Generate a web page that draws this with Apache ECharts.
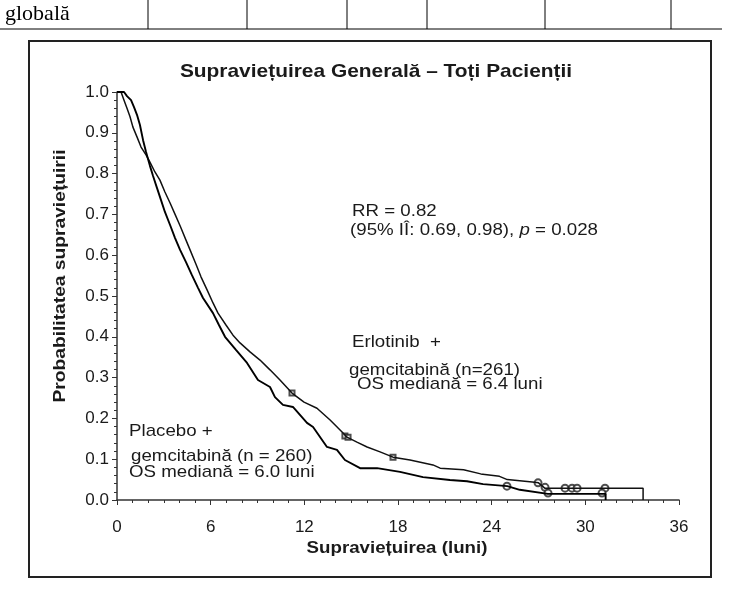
<!DOCTYPE html>
<html>
<head>
<meta charset="utf-8">
<script src="https://cdn.jsdelivr.net/npm/echarts@6/dist/echarts.min.js"></script>
<style>
  html, body { margin: 0; padding: 0; background: #fff; }
  #chart { width: 729px; height: 593px; }
</style>
</head>
<body>
<div id="chart"></div>
<script>
// Kaplan-Meier curves: [luni, probabilitate]
var erlotinib = [
  [0, 1.0], [0.26, 1.0], [0.45, 0.98], [0.64, 0.96], [0.83, 0.94], [1.02, 0.914],
  [1.28, 0.89], [1.54, 0.865], [1.86, 0.846], [2.11, 0.828], [2.43, 0.804],
  [2.75, 0.784], [3.07, 0.755], [3.4, 0.728], [3.72, 0.7], [4.04, 0.672],
  [4.42, 0.637], [4.68, 0.613], [5.06, 0.578], [5.38, 0.547], [5.77, 0.515],
  [6.15, 0.483], [6.47, 0.458], [6.98, 0.429], [7.43, 0.404], [7.88, 0.385],
  [8.52, 0.363], [9.16, 0.343], [9.8, 0.319], [10.44, 0.294], [11.21, 0.262],
  [11.98, 0.24], [12.81, 0.225], [13.65, 0.196], [14.48, 0.164], [14.73, 0.154],
  [15.37, 0.142], [16.02, 0.13], [16.85, 0.118], [17.68, 0.105], [18.77, 0.098],
  [20.24, 0.086], [20.7, 0.078], [22.2, 0.074], [23.3, 0.064], [24.5, 0.058],
  [25.0, 0.05], [26.6, 0.044], [27.0, 0.042], [27.4, 0.029], [33.7, 0.029], [33.7, 0]
];
var placebo = [
  [0, 1.0], [0.45, 1.0], [0.64, 0.99], [0.9, 0.98], [1.09, 0.963], [1.28, 0.944],
  [1.47, 0.919], [1.67, 0.882], [1.86, 0.853], [2.11, 0.819], [2.31, 0.794],
  [2.56, 0.765], [2.82, 0.735], [3.07, 0.706], [3.4, 0.674], [3.72, 0.642],
  [4.04, 0.613], [4.42, 0.583], [4.8, 0.551], [5.19, 0.52], [5.51, 0.495],
  [6.15, 0.458], [6.53, 0.429], [6.92, 0.4], [7.62, 0.368], [8.33, 0.336],
  [9.03, 0.294], [9.8, 0.277], [10.12, 0.252], [10.63, 0.233], [11.27, 0.228],
  [12.17, 0.189], [12.56, 0.179], [13.45, 0.13], [14.09, 0.123], [14.6, 0.098],
  [15.57, 0.078], [16.66, 0.078], [18.13, 0.069], [19.6, 0.056], [21.33, 0.049],
  [22.42, 0.046], [23.45, 0.039], [25.0, 0.034], [25.8, 0.025], [27.6, 0.015],
  [31.3, 0.015], [31.3, 0]
];
// censored observations
var erlotinibSquares = [[11.21, 0.262], [14.6, 0.157], [14.8, 0.154], [17.68, 0.105]];
var erlotinibCircles = [[26.97, 0.042], [27.42, 0.031], [28.7, 0.029], [29.15, 0.029], [29.47, 0.029], [31.26, 0.029]];
var placeboCircles = [[24.98, 0.034], [27.61, 0.017], [31.07, 0.017]];

var xTicks = [0, 6, 12, 18, 24, 30, 36];

var chart = echarts.init(document.getElementById('chart'));
var txt = '#1a1a1a';
var sans = 'Liberation Sans, Arial, sans-serif';

// plain annotation text, slightly stretched like the scanned figure
function note(x, y, s) {
  return { type: 'text', x: x, y: y, scaleX: 1.1, style: { text: s, font: '17px ' + sans, fill: txt, verticalAlign: 'middle' } };
}

chart.setOption({
  animation: false,
  backgroundColor: '#fff',
  grid: { left: 117, top: 92, width: 562, height: 408 },
  xAxis: {
    type: 'value',
    min: xTicks[0],
    max: xTicks[xTicks.length - 1],
    interval: 6,
    axisLine: { lineStyle: { color: '#333', width: 1.5 } },
    axisTick: { length: 5, lineStyle: { color: '#333' } },
    minorTick: { show: true, splitNumber: 6, length: 3, lineStyle: { color: '#333' } },
    splitLine: { show: false },
    axisLabel: { color: txt, fontSize: 17, fontFamily: sans, margin: 19 }
  },
  yAxis: {
    type: 'value',
    min: 0,
    max: 1,
    interval: 0.1,
    axisLine: { show: true, lineStyle: { color: '#333', width: 1.5 } },
    axisTick: { show: true, length: 5, lineStyle: { color: '#333' } },
    minorTick: { show: true, splitNumber: 5, length: 3, lineStyle: { color: '#333' } },
    splitLine: { show: false },
    axisLabel: {
      color: txt, fontSize: 17, fontFamily: sans, margin: 8,
      formatter: function (v) { return v.toFixed(1); }
    }
  },
  series: [
    {
      type: 'line', name: 'Erlotinib', data: erlotinib,
      symbol: 'none', lineStyle: { color: '#111', width: 1.5 }
    },
    {
      type: 'line', name: 'Placebo', data: placebo,
      symbol: 'none', lineStyle: { color: '#000', width: 1.9 }
    },
    {
      type: 'scatter', data: erlotinibSquares, symbol: 'emptyRect', symbolSize: 5,
      itemStyle: { color: '#222', borderWidth: 1 }
    },
    {
      type: 'scatter', data: erlotinibCircles.concat(placeboCircles), symbol: 'emptyCircle', symbolSize: 7,
      itemStyle: { color: '#222', borderWidth: 1 }
    }
  ],
  graphic: [
    // table row above the figure
    { type: 'text', left: 5, top: 3, style: { text: 'globală', font: '22px "Liberation Serif", serif', fill: '#000' } },
    { type: 'line', shape: { x1: 0, y1: 29, x2: 722, y2: 29 }, style: { stroke: '#000', lineWidth: 1 } },
    { type: 'line', shape: { x1: 148, y1: 0, x2: 148, y2: 29 }, style: { stroke: '#000', lineWidth: 1 } },
    { type: 'line', shape: { x1: 247, y1: 0, x2: 247, y2: 29 }, style: { stroke: '#000', lineWidth: 1 } },
    { type: 'line', shape: { x1: 347, y1: 0, x2: 347, y2: 29 }, style: { stroke: '#000', lineWidth: 1 } },
    { type: 'line', shape: { x1: 427, y1: 0, x2: 427, y2: 29 }, style: { stroke: '#000', lineWidth: 1 } },
    { type: 'line', shape: { x1: 545, y1: 0, x2: 545, y2: 29 }, style: { stroke: '#000', lineWidth: 1 } },
    { type: 'line', shape: { x1: 671, y1: 0, x2: 671, y2: 29 }, style: { stroke: '#000', lineWidth: 1 } },
    // figure frame
    { type: 'rect', shape: { x: 29, y: 41, width: 682, height: 536 }, style: { fill: 'none', stroke: '#222', lineWidth: 2 } },
    // titles
    { type: 'text', x: 376, y: 72, scaleX: 1.1, style: { text: 'Supraviețuirea Generală – Toți Pacienții', font: 'bold 19px ' + sans, fill: txt, align: 'center', verticalAlign: 'middle' } },
    { type: 'text', x: 397, y: 548, scaleX: 1.1, style: { text: 'Supraviețuirea (luni)', font: 'bold 17px ' + sans, fill: txt, align: 'center', verticalAlign: 'middle' } },
    { type: 'text', x: 60, y: 276, rotation: Math.PI / 2, scaleX: 1.13, style: { text: 'Probabilitatea supraviețuirii', font: 'bold 17px ' + sans, fill: txt, align: 'center', verticalAlign: 'middle' } },
    // annotations
    note(352, 211, 'RR = 0.82'),
    {
      type: 'text', x: 350, y: 230, scaleX: 1.1,
      style: {
        text: '(95% IÎ: 0.69, 0.98), {i|p} = 0.028', font: '17px ' + sans, fill: txt, verticalAlign: 'middle',
        rich: { i: { fontStyle: 'italic', fontSize: 17, fontFamily: sans, fill: txt } }
      }
    },
    note(352, 342, 'Erlotinib  +'),
    note(349, 370, 'gemcitabină (n=261)'),
    note(357, 384, 'OS mediană = 6.4 luni'),
    note(129, 431, 'Placebo +'),
    note(131, 456, 'gemcitabină (n = 260)'),
    note(129, 472, 'OS mediană = 6.0 luni')
  ]
});
</script>
</body>
</html>
